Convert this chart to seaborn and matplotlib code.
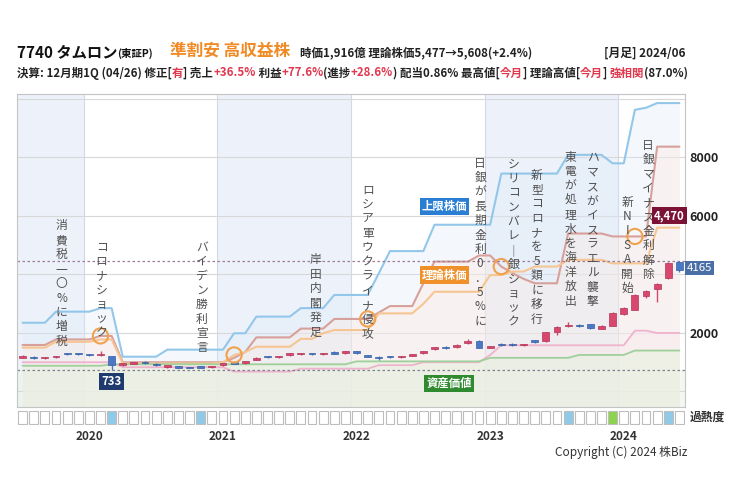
# 7740 タムロン monthly chart (株Biz style) rebuilt with seaborn + matplotlib
import matplotlib
matplotlib.use("Agg")
import matplotlib.pyplot as plt
import matplotlib.transforms as mtrans
import numpy as np
import pandas as pd
import seaborn as sns

# --- data: monthly candles Jul 2019 .. Jun 2024 ---
months = [str(p) for p in pd.period_range("2019-07", "2024-06", freq="M")]

opens = [1160, 1190, 1130, 1170, 1300, 1290, 1270, 1250, 1200, 920,
         955, 1000, 950, 845, 835, 820, 835, 825, 890, 985,
         970, 1090, 1200, 1185, 1250, 1280, 1285, 1280, 1340, 1300,
         1380, 1220, 1150, 1180, 1170, 1230, 1300, 1440, 1530, 1510,
         1660, 1740, 1500, 1620, 1620, 1585, 1720, 1720, 2020, 2230,
         2260, 2300, 2150, 2250, 2640, 2800, 3260, 3500, 3880, 4420]
highs = [1240, 1210, 1180, 1230, 1330, 1320, 1290, 1400, 1230, 990,
         1020, 1030, 970, 880, 860, 840, 860, 880, 980, 1040,
         1050, 1180, 1230, 1230, 1320, 1320, 1320, 1310, 1370, 1400,
         1400, 1240, 1200, 1200, 1210, 1280, 1380, 1530, 1560, 1620,
         1800, 1760, 1570, 1650, 1650, 1640, 1760, 2050, 2250, 2380,
         2320, 2320, 2260, 2720, 2880, 3340, 3470, 3720, 4430, 4470]
lows = [1130, 1110, 1110, 1150, 1260, 1260, 1220, 1200, 733, 880,
        930, 950, 880, 820, 800, 790, 800, 810, 870, 930,
        950, 1070, 1160, 1150, 1230, 1250, 1250, 1250, 1270, 1290,
        1290, 1180, 1080, 1140, 1150, 1220, 1290, 1420, 1450, 1490,
        1640, 1480, 1480, 1570, 1560, 1570, 1670, 1700, 1930, 2200,
        2200, 2140, 2130, 2230, 2600, 2780, 3200, 3070, 3860, 4100]
closes = [1210, 1140, 1160, 1210, 1280, 1275, 1235, 1280, 920, 960,
          995, 965, 900, 855, 820, 800, 815, 870, 960, 950,
          1030, 1160, 1185, 1195, 1305, 1285, 1280, 1285, 1290, 1380,
          1300, 1190, 1140, 1165, 1180, 1260, 1370, 1520, 1470, 1600,
          1720, 1500, 1560, 1590, 1590, 1620, 1705, 2020, 2200, 2250,
          2240, 2160, 2240, 2680, 2850, 3300, 3430, 3680, 4400, 4165]

# valuation lines
upper_limit = [2350, 2350, 2350, 2730, 2730, 2730, 2730, 2850, 2850, 1190,
               1190, 1190, 1190, 1430, 1430, 1430, 1430, 1430, 1430, 1990,
               1990, 2560, 2560, 2560, 2560, 2850, 2850, 2850, 3300, 3300,
               3300, 3300, 4040, 4800, 4800, 4800, 4800, 5700, 5700, 5700,
               5700, 5700, 5700, 7450, 7450, 7450, 7450, 7450, 7450, 8090,
               8090, 8090, 8090, 7800, 7800, 9630, 9700, 9860, 9860, 9860]
theory_high = [1590, 1590, 1590, 1780, 1780, 1780, 1780, 1900, 1900, 1000,
               1000, 1000, 1000, 1000, 1000, 1000, 1000, 1000, 1000, 1150,
               1350, 1850, 1850, 1850, 1850, 2150, 2150, 2150, 2480, 2480,
               2480, 2480, 2700, 2920, 2920, 2920, 3700, 4440, 4440, 4440,
               4440, 4650, 4650, 4270, 4050, 3850, 3700, 3700, 3700, 5400,
               5400, 5400, 5400, 5300, 5300, 5300, 5300, 8370, 8370, 8370]
theory = [1500, 1500, 1500, 1700, 1700, 1700, 1700, 1780, 1780, 960,
          960, 960, 960, 960, 960, 960, 960, 960, 1000, 1250,
          1350, 1530, 1530, 1530, 1530, 1800, 1800, 1990, 2100, 2100,
          2100, 2100, 2670, 2670, 2670, 2670, 3000, 3410, 3410, 3410,
          3410, 3410, 3980, 3980, 4100, 4100, 4270, 4270, 4270, 4500,
          4500, 4500, 4500, 4380, 4380, 4380, 4380, 5600, 5600, 5600]
lower_band = [1000, 1000, 1000, 1000, 1000, 1000, 1000, 1000, 1000, 830,
              830, 830, 830, 830, 830, 830, 830, 830, 830, 680,
              680, 680, 680, 680, 680, 780, 780, 780, 780, 780,
              780, 780, 900, 900, 900, 900, 1000, 1000, 1000, 1000,
              1000, 1000, 1250, 1580, 1580, 1580, 1580, 1580, 1580, 1580,
              1580, 1580, 1580, 1580, 1580, 2080, 2080, 2000, 2000, 2000]
asset_value = [880, 880, 880, 880, 880, 880, 880, 880, 930, 930,
               930, 930, 930, 930, 930, 930, 930, 930, 930, 930,
               930, 930, 930, 930, 930, 930, 930, 930, 930, 930,
               1030, 1030, 1030, 1030, 1030, 1030, 1030, 1030, 1030, 1030,
               1030, 1030, 1150, 1150, 1150, 1150, 1150, 1150, 1150, 1150,
               1250, 1250, 1250, 1250, 1250, 1400, 1400, 1400, 1400, 1400]

# 過熱度 (0 = none, 1 = blue, 2 = green)
heat = [0, 0, 0, 0, 0, 0, 0, 0, 1, 0,
        0, 0, 0, 0, 0, 0, 1, 0, 0, 0,
        0, 0, 0, 0, 0, 0, 0, 0, 0, 0,
        0, 0, 0, 0, 0, 0, 0, 0, 0, 0,
        0, 0, 0, 0, 0, 0, 0, 0, 0, 1,
        0, 0, 0, 2, 0, 0, 0, 0, 1, 0]

event_months = ["2019-10", "2020-02", "2020-11", "2021-09", "2022-02", "2022-12",
                "2023-03", "2023-05", "2023-08", "2023-10", "2024-01", "2024-03"]
event_texts = ["消費税一〇%に増税", "コロナショック", "バイデン勝利宣言", "岸田内閣発足",
               "ロシア軍ウクライナ侵攻", "日銀が長期金利0．5%に", "シリコンバレ｜銀ショック",
               "新型コロナを5類に移行", "東電が処理水を海洋放出", "ハマスがイスラエル襲撃",
               "新NISA開始", "日銀マイナス金利解除"]
ring_months = ["2020-02", "2021-02", "2022-02", "2023-02", "2024-02"]
ring_on = ["high", "theory", "high", "high", "high"]

# --- layout (pixels) ---
event_top = [226, 247, 247, 260, 190, 163, 164, 175, 157, 158, 202, 145]
event_dx = [0.5, 0.1, 0.1, 0.3, 0.0, 0.1, 0.1, 0.2, 0.2, 0.2, 0.3, 0.2]

sns.set_theme(style="white")
plt.rcParams["font.family"] = ["Noto Sans CJK JP", "DejaVu Sans"]

W, H = 750, 499
fig = plt.figure(figsize=(W / 100, H / 100), dpi=100)
fig.patch.set_facecolor("white")
px = mtrans.Affine2D().scale(1, -1).translate(0, H)

L, R, T, B = 17, 685, 94, 407
YMIN, YMAX = -530, 10170
ax = fig.add_axes([L / W, 1 - B / H, (R - L) / W, (B - T) / H])
n = len(months)
idx = np.arange(n)
ax.set_xlim(-0.5, n - 0.5)
ax.set_ylim(YMIN, YMAX)
ax.set_facecolor("white")

# year bands
years = [m[:4] for m in months]
for yr in sorted(set(years)):
    pos = [i for i, y in enumerate(years) if y == yr]
    if int(yr) % 2 == 1:
        ax.axvspan(pos[0] - 0.5, pos[-1] + 0.5, color="#edf2fa", lw=0, zorder=0)
    if pos[0] > 0:
        ax.axvline(pos[0] - 0.5, color="#d3d9e4", lw=0.8, zorder=0.6)

low_mark, high_mark = min(lows), max(highs)
ax.axhspan(YMIN, low_mark, color="#e9f4e3", alpha=0.55, lw=0, zorder=0.3)

# soft fills under the lines
ax.fill_between(idx, YMIN, upper_limit, color="#dbe9f8", alpha=0.3, lw=0, zorder=1)
ax.fill_between(idx, YMIN, theory_high, color="#fdebe1", alpha=0.4, lw=0, zorder=1.1)
ax.fill_between(idx, YMIN, lower_band, color="#fbe6ee", alpha=0.4, lw=0, zorder=1.2)
ax.fill_between(idx, YMIN, asset_value, color="#e6f3df", alpha=0.55, lw=0, zorder=1.3)

lines = [(upper_limit, "#93c7ea", 1.5), (theory_high, "#d8a09a", 1.5),
         (theory, "#f6c592", 1.5), (lower_band, "#efb3cb", 1.3),
         (asset_value, "#9fd09b", 1.3)]
for vals, col, lw in lines:
    sns.lineplot(x=idx, y=vals, ax=ax, color=col, linewidth=lw, zorder=2)

ax.axhline(low_mark, color="#7d8290", lw=0.9, ls=(0, (2, 2)), zorder=2.5)
ax.axhline(high_mark, color="#9b7d9b", lw=0.9, ls=(0, (2, 2)), zorder=2.5)

# grid / ticks (4000 sits under the close tag, as in the source)
ax.set_yticks([0, 2000, 4000, 6000, 8000, 10000])
ax.set_yticklabels(["", "2000", "", "6000", "8000", ""])
ax.yaxis.tick_right()
ax.tick_params(axis="y", length=0, pad=3, labelsize=9, labelcolor="#222222")
for lbl in ax.get_yticklabels():
    lbl.set_fontweight("bold")
ax.set_xticks([])
ax.set_xlabel("")
ax.set_ylabel("")
ax.grid(axis="y", color="#d8d8d8", lw=0.8)
ax.set_axisbelow(True)
for sp in ax.spines.values():
    sp.set_color("#c4c4c4")
    sp.set_linewidth(0.8)

# candles
o, c = np.array(opens), np.array(closes)
up = c >= o
cols = np.where(up, "#d8476e", "#4a78c4")
edges = np.where(up, "#b23256", "#345ea6")
ax.vlines(idx, lows, highs, colors=cols, lw=1.0, zorder=4)
ax.bar(idx, np.maximum(np.abs(c - o), 45), bottom=np.minimum(o, c), width=0.62,
       color=cols, edgecolor=edges, linewidth=0.5, zorder=5)

# rings
series = {"high": theory_high, "theory": theory}
rx = [months.index(m) for m in ring_months]
ry = [series[s][i] for s, i in zip(ring_on, rx)]
ax.scatter(rx, ry, s=120, facecolors="none", edgecolors="#f0a24e", linewidths=1.5, zorder=6)

# event captions, one character per row
ev_trans = mtrans.blended_transform_factory(ax.transData, px)
for m, txt, top, dx in zip(event_months, event_texts, event_top, event_dx):
    xi = months.index(m) + dx
    for k, ch in enumerate(txt):
        ax.text(xi, top + k * 14.4, ch, transform=ev_trans, ha="center", va="center",
                fontsize=8.5, color="#505050", zorder=7)


def tag(x, y, s, fc, trans, ha="center", size=8.2, target=ax):
    target.text(x, y, s, transform=trans, ha=ha, va="center", fontsize=size, color="white",
                fontweight="bold", zorder=9,
                bbox=dict(boxstyle="square,pad=0.18", fc=fc, ec="none"))


tag(37.9, 206.5, "上限株価", "#2a7fd5", ev_trans)
tag(37.9, 275, "理論株価", "#f0902b", ev_trans)
tag(38.3, 383.5, "資産価値", "#2f8a30", ev_trans)
tag(lows.index(low_mark), 381.5, f"{low_mark}", "#1e3a6f", ev_trans)
tag(n - 0.5, 215.5, f"{high_mark:,}", "#7b1235", ev_trans, ha="right")
fig.text(687, 268, f"{closes[-1]}", transform=px, ha="left", va="center", fontsize=8.2,
         color="white", zorder=9,
         bbox=dict(boxstyle="square,pad=0.18", fc="#4a6ea6", ec="none"))

# heat strip
hax = fig.add_axes([L / W, 1 - 425 / H, (R - L) / W, 15 / H])
heat_cols = {0: "white", 1: "#8fcbe9", 2: "#8dd34c"}
hax.bar(idx, 1, width=0.8, color=[heat_cols[h] for h in heat], edgecolor="#bdbdbd", linewidth=0.8)
hax.set_xlim(-0.5, n - 0.5)
hax.set_ylim(-0.05, 1.05)
hax.axis("off")
fig.text(690, 417, "過熱度", transform=px, ha="left", va="center", fontsize=8.5,
         color="#333333", fontweight="bold")

yr_trans = mtrans.blended_transform_factory(hax.transData, px)
for i, m in enumerate(months):
    if m.endswith("-01"):
        fig.text(i, 437, m[:4], transform=yr_trans, ha="center", va="center",
                 fontsize=8.5, fontweight="bold", color="#333333")
fig.text(621, 452, "Copyright (C) 2024 株Biz", transform=px, ha="center", va="center",
         fontsize=8.5, color="#333333")

# header
fig.text(17, 52, "7740 タムロン", transform=px, ha="left", va="center", fontsize=11,
         fontweight="bold", color="#111111")
fig.text(117, 53, "(東証P)", transform=px, ha="left", va="center", fontsize=7.5,
         fontweight="bold", color="#111111")
fig.text(170, 51, "準割安 高収益株", transform=px, ha="left", va="center", fontsize=12,
         fontweight="bold", color="#f08a24")
fig.text(300, 53, "時価1,916億 理論株価5,477→5,608(+2.4%)", transform=px, ha="left",
         va="center", fontsize=8.3, fontweight="bold", color="#222222")
fig.text(685, 53, "[月足] 2024/06", transform=px, ha="right", va="center", fontsize=8.5,
         fontweight="bold", color="#222222")

red = "#e0384f"
blk = "#222222"
parts = [("決算: 12月期1Q (04/26) 修正[", blk), ("有", red), ("] 売上", blk), ("+36.5%", red),
         (" 利益", blk), ("+77.6%", red), ("(進捗", blk), ("+28.6%", red),
         (") 配当0.86% 最高値[", blk), ("今月", red), ("] 理論高値[", blk), ("今月", red),
         ("] ", blk), ("強相関", red), ("(87.0%)", blk)]


def text_row(x, y, size):
    r = fig.canvas.get_renderer()
    made = []
    for s, col in parts:
        t = fig.text(x, y, s, transform=px, ha="left", va="center", fontsize=size,
                     fontweight="bold", color=col)
        x += t.get_window_extent(r).width
        made.append(t)
    return x, made


end, made = text_row(17, 73, 8)
for t in made:
    t.remove()
text_row(17, 73, 8 * (R - 17) / (end - 17))

fig.savefig("out.png", dpi=100)
